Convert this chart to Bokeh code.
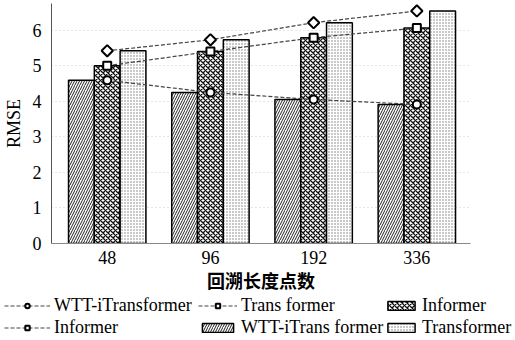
import math
from bokeh.plotting import figure
from bokeh.layouts import column, row
from bokeh.models import (ColumnDataSource, Range1d, FixedTicker, Legend, LegendItem)
from bokeh.transform import dodge
from bokeh.embed import file_html
from bokeh.resources import INLINE

# look-back lengths and RMSE per model
lookback = ["48", "96", "192", "336"]
xpos = [1, 2, 3, 4]
wtt_itransformer = [4.59, 4.25, 4.05, 3.91]
informer = [5.00, 5.40, 5.79, 6.06]
transformer = [5.42, 5.73, 6.21, 6.54]

src = ColumnDataSource(dict(x=xpos, wtt=wtt_itransformer, inf=informer, tra=transformer))

SERIF = "Liberation Serif"
BW = 0.25
DASH = "4 2"


def draw_series(fig):
    """Hatched bars for each model plus dashed marker lines."""
    r = {}
    r["bar_wtt"] = fig.vbar(x=dodge("x", -BW, range=fig.x_range), top="wtt", width=BW, source=src,
                            fill_color="white", line_color="black", line_width=1.5,
                            hatch_pattern="/", hatch_scale=5, hatch_weight=1, hatch_color="#222222")
    r["bar_inf"] = fig.vbar(x="x", top="inf", width=BW, source=src,
                            fill_color="white", line_color="black", line_width=1.5,
                            hatch_pattern="x", hatch_scale=5, hatch_weight=1.3, hatch_color="#111111")
    r["bar_tra"] = fig.vbar(x=dodge("x", BW, range=fig.x_range), top="tra", width=BW, source=src,
                            fill_color="white", line_color="black", line_width=1.5,
                            hatch_pattern=".", hatch_scale=3, hatch_weight=1, hatch_color="#777777")
    for key, marker, angle in (("wtt", "circle", 0), ("tra", "square", math.pi / 4),
                               ("inf", "square", 0)):
        r["line_" + key] = fig.line("x", key, source=src, line_color="#444444",
                                    line_width=1.2, line_dash=DASH)
        r["mark_" + key] = fig.scatter("x", key, source=src, marker=marker, size=8, angle=angle,
                                       fill_color="white", line_color="black", line_width=2)
    return r


# main chart
p = figure(width=515, height=295, output_backend="svg", toolbar_location=None,
           x_range=Range1d(0.46, 4.52), y_range=Range1d(0, 6.75),
           min_border_left=49, min_border_right=45, min_border_top=3,
           min_border_bottom=50)
p.outline_line_color = None
draw_series(p)

p.xaxis.ticker = FixedTicker(ticks=xpos)
p.xaxis.major_label_overrides = {x: lab for x, lab in zip(xpos, lookback)}
p.yaxis.ticker = FixedTicker(ticks=[0, 1, 2, 3, 4, 5, 6])
for ax in (p.xaxis, p.yaxis):
    ax.major_tick_line_color = None
    ax.minor_tick_line_color = None
    ax.major_label_text_font = SERIF
    ax.major_label_text_font_size = "18px"
    ax.major_label_text_color = "black"
    ax.axis_label_text_color = "black"
p.xaxis.axis_line_color = "#888888"
p.yaxis.axis_line_color = "#555555"
p.xaxis.major_label_standoff = 1
p.yaxis.major_label_standoff = 4
p.yaxis.axis_label = "RMSE"
p.yaxis.axis_label_text_font = SERIF
p.yaxis.axis_label_text_font_size = "18px"
p.yaxis.axis_label_text_font_style = "normal"
p.yaxis.axis_label_standoff = 6
p.xaxis.axis_label = "回溯长度点数"
p.xaxis.axis_label_text_font = "Noto Sans CJK SC"
p.xaxis.axis_label_text_font_size = "18px"
p.xaxis.axis_label_text_font_style = "bold"
p.xaxis.axis_label_standoff = 0

p.xgrid.grid_line_color = None
p.ygrid.grid_line_color = "#cccccc"
p.ygrid.grid_line_dash = "1 3"

# legend strip below the chart; its copies of the series are hidden
lg = figure(width=515, height=45, output_backend="svg", toolbar_location=None,
            x_range=Range1d(0.46, 4.52), y_range=Range1d(0, 6.75),
            x_axis_location=None, y_axis_location=None,
            min_border_left=0, min_border_right=0, min_border_top=0, min_border_bottom=0)
lg.outline_line_color = None
lg.grid.visible = False
lr = draw_series(lg)
for rend in lr.values():
    rend.visible = False

cols = [
    [("WTT-iTransformer", ["line_wtt", "mark_wtt"]), ("Informer", ["line_inf", "mark_inf"])],
    [("Trans former", ["line_tra", "mark_tra"]), ("WTT-iTrans former", ["bar_wtt"])],
    [("Informer", ["bar_inf"]), ("Transformer", ["bar_tra"])],
]
col_x = [4, 198, 384]
col_glyph = [46, 39, 34]
for xoff, gw, entries in zip(col_x, col_glyph, cols):
    leg = Legend(items=[LegendItem(label=lab, renderers=[lr[k] for k in keys])
                        for lab, keys in entries])
    leg.label_text_font = SERIF
    leg.label_text_font_size = "18px"
    leg.label_text_color = "black"
    leg.label_standoff = 4
    leg.glyph_width = gw
    leg.glyph_height = 11
    leg.spacing = 1
    leg.padding = 0
    leg.margin = 0
    leg.label_height = 19
    leg.border_line_color = None
    leg.background_fill_alpha = 0
    leg.inactive_fill_alpha = 0
    leg.location = (xoff, 2)
    lg.add_layout(leg)

layout = column(p, row(lg), spacing=0)
open("out.html", "w").write(file_html(layout, INLINE))
